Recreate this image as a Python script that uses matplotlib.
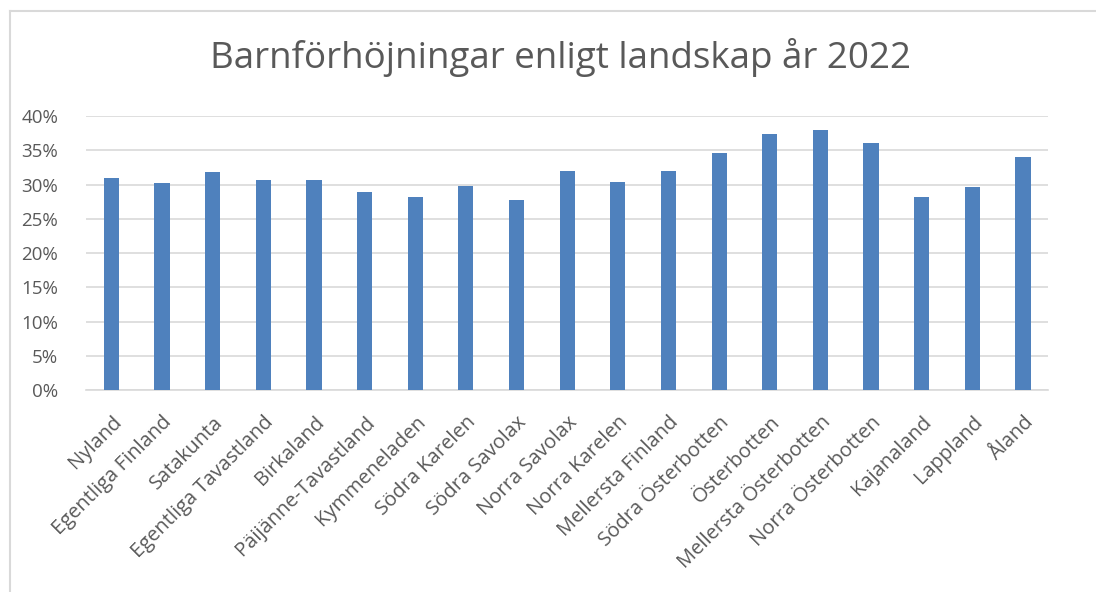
import numpy as np
import matplotlib
matplotlib.use("Agg")
import matplotlib.pyplot as plt
from matplotlib.lines import Line2D
from matplotlib.ticker import FuncFormatter, MultipleLocator

plt.rcParams["font.family"] = ["Open Sans", "DejaVu Sans"]

TITLE = "Barnförhöjningar enligt landskap år 2022"

regions = [
    "Nyland", "Egentliga Finland", "Satakunta", "Egentliga Tavastland",
    "Birkaland", "Päijänne-Tavastland", "Kymmeneladen", "Södra Karelen",
    "Södra Savolax", "Norra Savolax", "Norra Karelen", "Mellersta Finland",
    "Södra Österbotten", "Österbotten", "Mellersta Österbotten",
    "Norra Österbotten", "Kajanaland", "Lappland", "Åland",
]
shares = [
    0.310, 0.303, 0.319, 0.307, 0.307, 0.289, 0.282, 0.298, 0.278,
    0.320, 0.304, 0.320, 0.346, 0.374, 0.379, 0.360, 0.282, 0.296, 0.340,
]

BAR_COLOR = "#4F81BD"
GRID_COLOR = "#D9D9D9"
TEXT_COLOR = "#595959"

fig = plt.figure(figsize=(10.96, 5.92), dpi=100)
ax = fig.add_axes([0.0785, 0.341, 0.878, 0.463])

x = np.arange(len(regions))
ax.bar(x, shares, width=0.3, color=BAR_COLOR, zorder=3)

ax.set_xlim(-0.5, len(regions) - 0.5)
ax.set_ylim(0, 0.40)
ax.yaxis.set_major_locator(MultipleLocator(0.05))
ax.yaxis.set_major_formatter(FuncFormatter(lambda v, _: f"{v * 100:.0f}%"))
ax.grid(axis="y", color=GRID_COLOR, linewidth=1.2, zorder=0)

for side in ["top", "right", "left"]:
    ax.spines[side].set_visible(False)
ax.spines["bottom"].set_color(GRID_COLOR)
ax.spines["bottom"].set_linewidth(1.2)

ax.set_xticks(x)
ax.set_xticklabels(regions, rotation=45, ha="right", rotation_mode="anchor")
ax.tick_params(axis="both", length=0, colors=TEXT_COLOR)
ax.tick_params(axis="y", pad=20, labelsize=13.5)
ax.tick_params(axis="x", pad=16, labelsize=14.5)

fig.text(0.511, 0.903, TITLE, ha="center", va="center", fontsize=26.5, color=TEXT_COLOR)

# chart border (only left and top edges are visible)
fig.add_artist(Line2D([0.0095, 0.0095], [0.0, 0.982], transform=fig.transFigure,
                      color="#D9D9D9", linewidth=1.5))
fig.add_artist(Line2D([0.0095, 1.0], [0.982, 0.982], transform=fig.transFigure,
                      color="#D9D9D9", linewidth=1.5))

fig.savefig("out.png", dpi=100)
